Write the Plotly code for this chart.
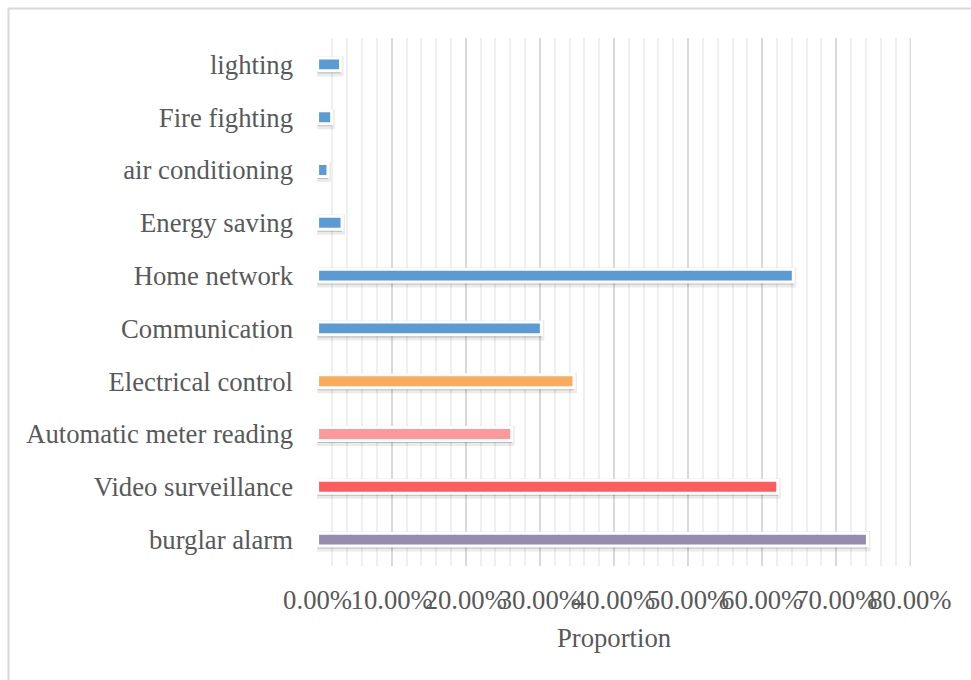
import plotly.graph_objects as go

# Categories listed bottom-to-top as they appear on the horizontal bar chart
categories = [
    "burglar alarm",
    "Video surveillance",
    "Automatic meter reading",
    "Electrical control",
    "Communication",
    "Home network",
    "Energy saving",
    "air conditioning",
    "Fire fighting",
    "lighting",
]
proportions = [0.742, 0.621, 0.262, 0.346, 0.302, 0.642, 0.033, 0.014, 0.019, 0.031]
bar_colors = [
    "#978CAD",
    "#FD5C5F",
    "#FF989B",
    "#FAAB5B",
    "#5B9BD5",
    "#5B9BD5",
    "#5B9BD5",
    "#5B9BD5",
    "#5B9BD5",
    "#5B9BD5",
]
x_ticks = [0, 0.1, 0.2, 0.3, 0.4, 0.5, 0.6, 0.7, 0.8]

W, H = 971, 680
L, R, T, B = 317, 60, 38, 114
FONT = "Liberation Serif, Times New Roman, serif"
GREY = "#595959"
FS = 26.7

fig = go.Figure()

# soft shadow underneath each bar
fig.add_trace(go.Bar(
    y=categories, x=proportions, orientation="h",
    marker=dict(color="rgba(0,0,0,0.20)",
                line=dict(color="rgba(0,0,0,0.08)", width=6)),
    width=0.27, offset=-0.17, hoverinfo="skip", showlegend=False,
))

# the bars themselves, with a white outline
fig.add_trace(go.Bar(
    y=categories, x=proportions, orientation="h",
    marker=dict(color=bar_colors, line=dict(color="white", width=3)),
    width=0.245, showlegend=False,
))

# closing gridline at the last tick
fig.add_shape(
    type="line", xref="x", yref="paper",
    x0=x_ticks[-1], x1=x_ticks[-1], y0=0, y1=1,
    line=dict(color="#D9D9D9", width=1.5), layer="below",
)

# chart frame
pw, ph = W - L - R, H - T - B
fig.add_shape(
    type="rect", xref="paper", yref="paper",
    x0=(8.5 - L) / pw, x1=(W + 10 - L) / pw,
    y0=-(H + 10 - (H - B)) / ph, y1=(H - B - 8.5) / ph,
    line=dict(color="#D9D9D9", width=2), fillcolor="rgba(0,0,0,0)", layer="below",
)

fig.update_layout(
    width=W, height=H,
    margin=dict(l=L, r=R, t=T, b=B, autoexpand=False),
    paper_bgcolor="white", plot_bgcolor="white",
    barmode="overlay",
    font=dict(family=FONT, color=GREY, size=FS),
    xaxis=dict(
        range=[-0.0008, 0.8008], tickvals=x_ticks, tickformat=".2%", tickangle=0,
        automargin=False,
        showgrid=True, gridcolor="#D9D9D9", gridwidth=1.5,
        minor=dict(dtick=0.02, showgrid=True, gridcolor="#EFEFEF", gridwidth=1.5),
        zeroline=False, showline=False, ticks="",
        ticklabelstandoff=15,
        tickfont=dict(size=FS, color=GREY, family=FONT),
        title=dict(text="Proportion", font=dict(size=FS, color=GREY, family=FONT), standoff=14),
        fixedrange=True,
    ),
    yaxis=dict(
        automargin=False,
        showgrid=False, zeroline=False, showline=False, ticks="",
        tickfont=dict(size=FS, color=GREY, family=FONT),
        ticklabelstandoff=23,
        fixedrange=True,
    ),
)

fig.write_html("out.html")
